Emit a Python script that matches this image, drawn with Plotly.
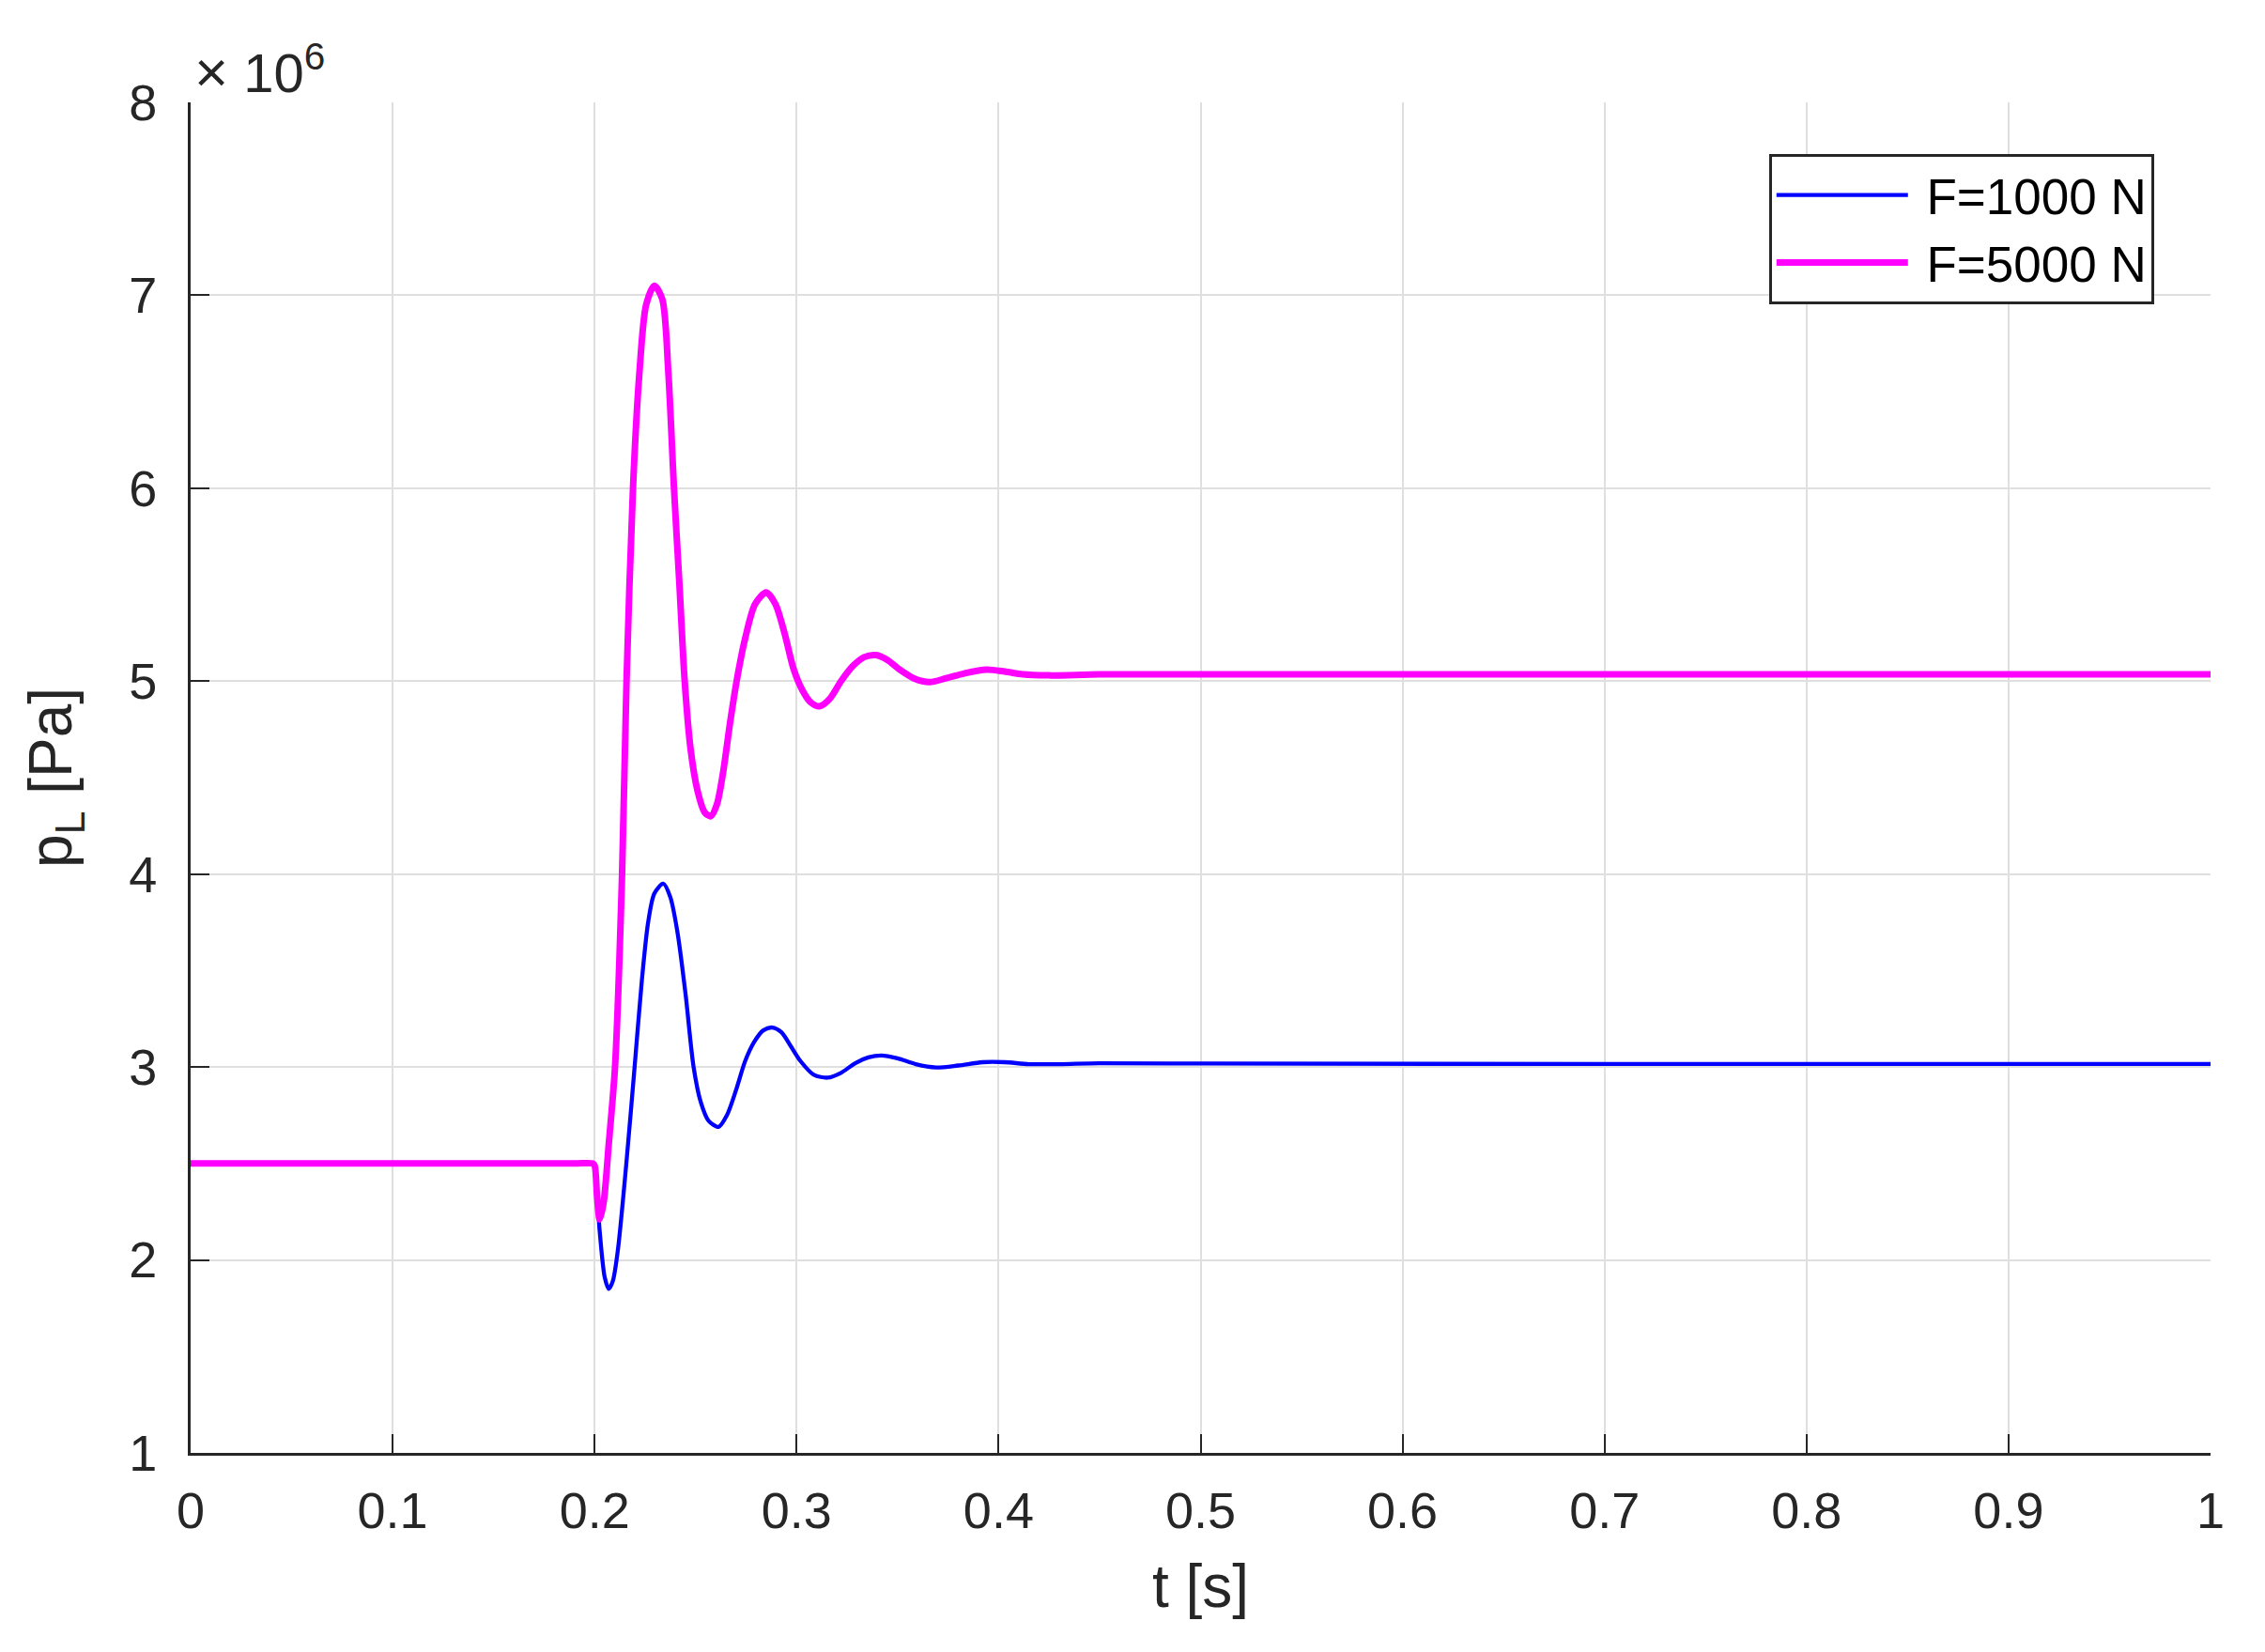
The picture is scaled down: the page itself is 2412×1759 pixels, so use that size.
import plotly.graph_objects as go

# F = 1000 N response (time in s, pressure in 1e6 Pa)
t_1000 = [0.0, 0.1, 0.19, 0.199, 0.2, 0.2025, 0.205, 0.207, 0.209, 0.2115,
          0.2157, 0.2198, 0.2234, 0.2265, 0.2296, 0.234, 0.2375, 0.241, 0.245, 0.249,
          0.2525, 0.2565, 0.2614, 0.2655, 0.27, 0.2745, 0.279, 0.2835, 0.288, 0.2925,
          0.297, 0.302, 0.3085, 0.3154, 0.322, 0.329, 0.3355, 0.342, 0.35, 0.359,
          0.369, 0.38, 0.392, 0.403, 0.415, 0.43, 0.45, 0.5, 0.7, 1.0]
p_1000 = [2.5, 2.5, 2.5, 2.5, 2.49, 2.15, 1.91, 1.85, 1.89, 2.05,
          2.5, 3.0, 3.45, 3.75, 3.9, 3.95, 3.88, 3.7, 3.38, 3.0,
          2.82, 2.72, 2.69, 2.75, 2.88, 3.03, 3.13, 3.19, 3.205, 3.18,
          3.11, 3.03, 2.96, 2.945, 2.97, 3.02, 3.05, 3.06, 3.045, 3.015,
          2.998, 3.008, 3.025, 3.025, 3.015, 3.015, 3.02, 3.018, 3.016, 3.016]

# F = 5000 N response
t_5000 = [0.0, 0.1, 0.19, 0.199, 0.2, 0.2012, 0.2025, 0.2045, 0.207, 0.2101,
          0.2136, 0.2158, 0.219, 0.2222, 0.2255, 0.2296, 0.2335, 0.2365, 0.2393, 0.242,
          0.2446, 0.2475, 0.251, 0.2545, 0.2575, 0.2605, 0.2635, 0.267, 0.2703, 0.2745,
          0.2795, 0.285, 0.2895, 0.294, 0.2986, 0.303, 0.307, 0.3113, 0.3165, 0.322,
          0.328, 0.3335, 0.3393, 0.345, 0.351, 0.358, 0.3658, 0.374, 0.383, 0.394,
          0.403, 0.412, 0.425, 0.45, 0.5, 1.0]
p_5000 = [2.5, 2.5, 2.5, 2.5, 2.49, 2.33, 2.21, 2.3, 2.6, 3.0,
          4.0, 5.0, 6.0, 6.6, 6.95, 7.05, 6.98, 6.6, 6.0, 5.5,
          5.0, 4.65, 4.43, 4.32, 4.30, 4.36, 4.52, 4.78, 5.0, 5.22,
          5.4, 5.46, 5.4, 5.25, 5.06, 4.95, 4.89, 4.87, 4.91, 5.0,
          5.08, 5.125, 5.135, 5.11, 5.06, 5.015, 4.995, 5.015, 5.04, 5.06,
          5.05, 5.035, 5.03, 5.035, 5.035, 5.035]

series_names = ['F=1000 N', 'F=5000 N']
x_ticks = [0, 0.1, 0.2, 0.3, 0.4, 0.5, 0.6, 0.7, 0.8, 0.9, 1]
y_ticks = [1, 2, 3, 4, 5, 6, 7, 8]

FONT = 'Liberation Sans, Arial, sans-serif'
DARK = '#262626'

fig = go.Figure()
fig.add_trace(go.Scatter(
    x=t_1000, y=p_1000, mode='lines', name='\u00a0' + series_names[0],
    line=dict(color='#0000FF', width=4.3, shape='spline', smoothing=0.8),
))
fig.add_trace(go.Scatter(
    x=t_5000, y=p_5000, mode='lines', name='\u00a0' + series_names[1],
    line=dict(color='#FF00FF', width=7, shape='spline', smoothing=0.8),
))

axis_common = dict(
    showgrid=True, gridcolor='#dfdfdf', gridwidth=2,
    showline=True, linecolor=DARK, linewidth=3,
    ticks='inside', ticklen=20, tickwidth=2, tickcolor=DARK,
    tickfont=dict(family=FONT, size=54, color=DARK),
    zeroline=False, mirror=False,
)

fig.update_xaxes(
    range=[0, 1], tickvals=x_ticks, ticktext=[str(v) for v in x_ticks],
    ticklabelstandoff=12,
    title=dict(text='t [s]', font=dict(family=FONT, size=64, color=DARK), standoff=30),
    **axis_common,
)
fig.update_yaxes(
    range=[1, 8], tickvals=y_ticks, ticklabelstandoff=22,
    title=dict(text='p<sub>L</sub> [Pa]', font=dict(family=FONT, size=64, color=DARK), standoff=40),
    **axis_common,
)

fig.add_annotation(
    x=0, y=1, xref='paper', yref='paper', xanchor='left', yanchor='bottom',
    text="<span style='font-size:62px'>×</span> 10<sup>6</sup>", showarrow=False,
    xshift=2, yshift=-4,
    font=dict(family=FONT, size=58, color=DARK),
)

# the page body adds an 8 px margin, so the figure is 16 px smaller than the window
fig.update_layout(
    width=2396, height=1743,
    margin=dict(l=195, r=50, t=101, b=204),
    plot_bgcolor='white', paper_bgcolor='white',
    font=dict(family=FONT, color=DARK),
    showlegend=True,
    legend=dict(
        x=0.972, y=0.962, xanchor='right', yanchor='top',
        bgcolor='white', bordercolor=DARK, borderwidth=3,
        font=dict(family=FONT, size=53, color='black'),
        itemwidth=140, tracegroupgap=0,
    ),
)

fig.write_html('out.html')
